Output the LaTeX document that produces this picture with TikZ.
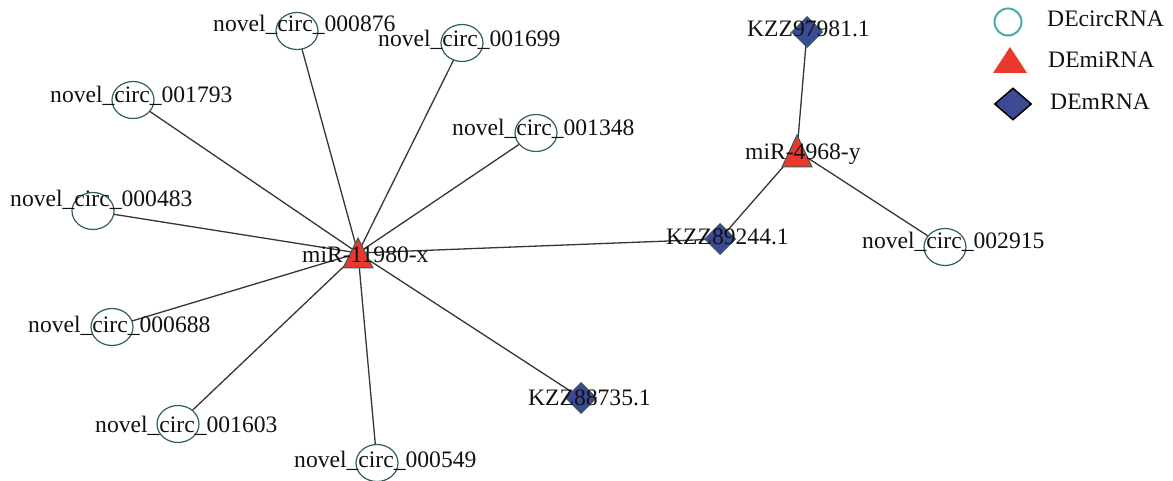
\documentclass[tikz,border=0pt]{standalone}
\usepackage{fontspec}
\setmainfont{Liberation Serif}
\usetikzlibrary{shapes.geometric}
\definecolor{edgecol}{HTML}{3A3333}
\definecolor{circline}{HTML}{2F5F5A}
\definecolor{legcirc}{HTML}{45AFA6}
\definecolor{trired}{HTML}{E8392C}
\definecolor{diablue}{HTML}{3C4A95}
\definecolor{txt}{HTML}{111111}
\begin{document}
\begin{tikzpicture}[x=1pt,y=-1pt,
 edge/.style={draw=edgecol, line width=1.3pt},
 circnode/.style={ellipse, draw=circline, fill=white, line width=1.2pt, minimum width=42pt, minimum height=37pt, inner sep=0pt},
 dianode/.style={diamond, draw=circline, fill=diablue, line width=1pt, minimum width=31pt, minimum height=31pt, inner sep=0pt},
 tri/.style={fill=trired, draw=circline, line width=1pt},
 lbl/.style={anchor=base west, inner sep=0pt, text=txt, font=\fontsize{23.6}{28}\selectfont},
]
\useasboundingbox (0,0) rectangle (1173,481);
% node centres
\coordinate (hubA) at (358,253);
\coordinate (hubB) at (797,151);
\coordinate (c876) at (297,31);
\coordinate (c699) at (462,43);
\coordinate (c793) at (133,100);
\coordinate (c348) at (536,133);
\coordinate (c483) at (93,211);
\coordinate (c688) at (112,327);
\coordinate (c603) at (178,424);
\coordinate (c549) at (377,463);
\coordinate (c915) at (945,247);
\coordinate (k244) at (720,239);
\coordinate (k735) at (581,398);
\coordinate (k981) at (807,32);
% edges
\foreach \n in {c876,c699,c793,c348,c483,c688,c603,c549,k735,k244}
  \draw[edge] (hubA) -- (\n);
\foreach \n in {k981,k244,c915}
  \draw[edge] (hubB) -- (\n);
% shapes
\foreach \n in {c876,c699,c793,c348,c483,c688,c603,c549,c915}
  \node[circnode] (s\n) at (\n) {};
\foreach \n in {k244,k735,k981}
  \node[dianode] (s\n) at (\n) {};
\path[tri] ([shift={(0,-15)}]hubA) -- ([shift={(15,15)}]hubA) -- ([shift={(-15,15)}]hubA) -- cycle;
\path[tri] ([shift={(0,-16)}]hubB) -- ([shift={(15,16)}]hubB) -- ([shift={(-15,16)}]hubB) -- cycle;
% labels
\node[lbl] (t876) at (213,32) {novel\_circ\_000876};
\node[lbl] (t699) at (378,47) {novel\_circ\_001699};
\node[lbl] (t793) at (50,103) {novel\_circ\_001793};
\node[lbl] (t348) at (452,136) {novel\_circ\_001348};
\node[lbl] (t483) at (10,207) {novel\_circ\_000483};
\node[lbl] (t688) at (28,332) {novel\_circ\_000688};
\node[lbl] (t603) at (95,432) {novel\_circ\_001603};
\node[lbl] (t549) at (294,467) {novel\_circ\_000549};
\node[lbl] (t915) at (862,248) {novel\_circ\_002915};
\node[lbl] (tA) at (302,262) {miR-11980-x};
\node[lbl] (tB) at (745,160) {miR-4968-y};
\node[lbl] (t244) at (666,245) {KZZ89244.1};
\node[lbl] (t735) at (528,405) {KZZ88735.1};
\node[lbl] (t981) at (747,37) {KZZ97981.1};
% legend
\node[circle, draw=legcirc, fill=white, line width=2pt, minimum size=27pt, inner sep=0pt] (lgc) at (1008,22) {};
\coordinate (lgt) at (1010,62);
\path[fill=trired] ([shift={(0,-15)}]lgt) -- ([shift={(17,11)}]lgt) -- ([shift={(-17,11)}]lgt) -- cycle;
\node[diamond, draw=black, fill=diablue, line width=1.5pt, minimum width=37pt, minimum height=32pt, inner sep=0pt] (lgd) at (1013,104) {};
\node[lbl] (lt1) at (1047,27) {DEcircRNA};
\node[lbl] (lt2) at (1048,68) {DEmiRNA};
\node[lbl] (lt3) at (1050,110) {DEmRNA};
\end{tikzpicture}
\end{document}
